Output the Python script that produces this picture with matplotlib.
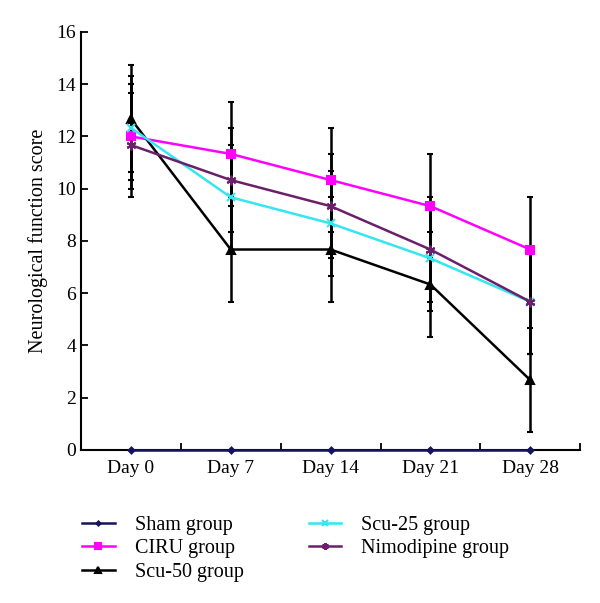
import matplotlib
matplotlib.use("Agg")
import matplotlib.pyplot as plt
import numpy as np

plt.rcParams['font.family'] = ['Liberation Serif', 'DejaVu Serif']

days = ["Day 0", "Day 7", "Day 14", "Day 21", "Day 28"]

sham = [0, 0, 0, 0, 0]
ciru = [12.0, 11.33, 10.33, 9.33, 7.67]
scu50 = [12.67, 7.67, 7.67, 6.33, 2.67]
scu25 = [12.33, 9.67, 8.67, 7.33, 5.67]
nimo = [11.67, 10.33, 9.33, 7.67, 5.67]

sham_err = [0, 0, 0, 0, 0]
ciru_err = [2.0, 2.0, 2.0, 2.0, 2.0]
scu50_err = [2.05, 2.0, 2.0, 2.0, 2.0]
scu25_err = [2.0, 2.0, 2.0, 2.0, 2.0]
nimo_err = [2.0, 2.0, 2.0, 2.0, 2.0]

fig = plt.figure(figsize=(6, 6.03), dpi=100)
ax = fig.add_axes([0.135, 0.254, 0.832, 0.693])

x = np.arange(len(days)) + 0.5

series = [
    ("Sham group", sham, sham_err, "#14145a", "D", 3),
    ("CIRU group", ciru, ciru_err, "#ff00ff", "s", 6),
    ("Scu-50 group", scu50, scu50_err, "black", "^", 6),
    ("Scu-25 group", scu25, scu25_err, "#33e6f0", "x", 6),
    ("Nimodipine group", nimo, nimo_err, "#6b1f6b", (6, 2, 0), 7),
]

# error bars first, all black
for name, vals, err, col, mk, ms in series[1:]:
    ax.errorbar(x, vals, yerr=err, fmt="none", ecolor="black",
                elinewidth=1.8, capsize=2.2, capthick=1.5, zorder=2)

handles = []
for name, vals, err, col, mk, ms in series:
    h, = ax.plot(x, vals, color=col, marker=mk, markersize=ms, lw=1.8,
                 markeredgewidth=1.5, label=name, zorder=3, clip_on=False)
    handles.append(h)

ax.set_xlim(0, 5)
ax.set_ylim(0, 16)
ax.set_yticks(np.arange(0, 17, 2))
ax.set_xticks(np.arange(0, 6))
ax.set_xticklabels([])
ax.set_xticks(x, minor=True)
ax.set_xticklabels(days, minor=True)
ax.tick_params(axis="x", which="minor", length=0, labelsize=14, pad=7)
ax.tick_params(axis="x", which="major", direction="in", length=5, width=1.3)
ax.tick_params(axis="y", direction="in", length=5, width=1.3, labelsize=14)
for s in ["top", "right"]:
    ax.spines[s].set_visible(False)
for s in ["left", "bottom"]:
    ax.spines[s].set_linewidth(1.5)

ax.set_ylabel("Neurological function score", fontsize=14.5, labelpad=6)

fig.legend(handles=handles, ncol=2, loc="upper left",
           bbox_to_anchor=(0.107, 0.175), frameon=False, fontsize=14.5,
           handlelength=1.6, columnspacing=3.25, labelspacing=0.22,
           handletextpad=1.0, markerscale=0.7)

fig.savefig("out.png", dpi=100)
